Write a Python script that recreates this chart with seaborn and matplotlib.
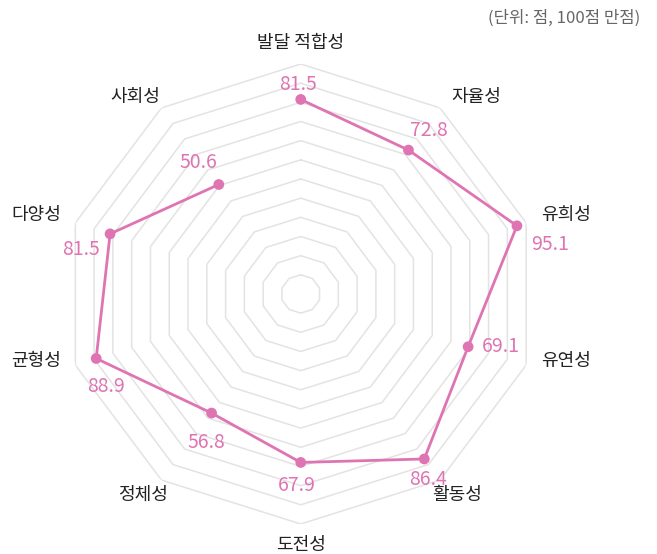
import numpy as np
import pandas as pd
import seaborn as sns
import matplotlib.pyplot as plt

# categories clockwise from the top, and scores
categories = ['발달 적합성', '자율성', '유희성', '유연성', '활동성',
              '도전성', '정체성', '균형성', '다양성', '사회성']
scores = [81.5, 72.8, 95.1, 69.1, 86.4, 67.9, 56.8, 88.9, 81.5, 50.6]
ring_levels = [-10, 0, 10, 20, 30, 40, 50, 60, 70, 80, 90, 100]
unit_note = '(단위: 점, 100점 만점)'

# layout (pixel offsets for the text)
value_offsets = [(-3, 4, 'center', 'bottom'), (2, 9, 'left', 'bottom'),
                 (14, -8, 'left', 'top'), (14, 0, 'left', 'center'),
                 (4, -10, 'center', 'top'), (-4, -13, 'center', 'top'),
                 (-5, -19, 'center', 'top'), (10, -18, 'center', 'top'),
                 (-10, -5, 'right', 'top'), (-1, 12, 'right', 'bottom')]
label_offsets = [(0, 21), (36, 11), (40, 8), (40, 4), (17, -15),
                 (0, -21), (-18, -15), (-39, 4), (-39, 8), (-26, 11)]

PINK = '#DF74B3'
GRID = '#E3E3E3'

sns.set_theme(style='white')
plt.rcParams['font.family'] = ['Noto Sans CJK KR', 'DejaVu Sans']

fig = plt.figure(figsize=(6.57, 5.54), dpi=100)
ax = fig.add_axes([0.097, 0.0542, 0.7215, 0.8303], projection='polar')
ax.set_theta_offset(np.pi / 2)
ax.set_theta_direction(-1)
ax.set_ylim(-20, 100)
ax.set_aspect('auto')
ax.grid(False)
ax.set_xticks([])
ax.set_yticks([])
ax.spines['polar'].set_visible(False)
ax.patch.set_alpha(0)

n = len(categories)
theta = np.linspace(0, 2 * np.pi, n, endpoint=False)
theta_closed = np.append(theta, theta[0])

# decagon rings
for lvl in ring_levels:
    ax.plot(theta_closed, [lvl] * (n + 1), color=GRID, lw=1.1, zorder=1)

df = pd.DataFrame({'theta': theta_closed, 'score': scores + scores[:1]})
sns.lineplot(data=df, x='theta', y='score', sort=False, ax=ax,
             color=PINK, lw=2.0, zorder=3)
sns.scatterplot(data=df.iloc[:-1], x='theta', y='score', ax=ax,
                color=PINK, s=60, edgecolor='none', zorder=4)
ax.set_xlabel('')
ax.set_ylabel('')

for t, v, (dx, dy, ha, va) in zip(theta, scores, value_offsets):
    ax.annotate(f'{v}', xy=(t, v), xytext=(dx, dy), textcoords='offset pixels',
                ha=ha, va=va, color=PINK, fontsize=14, fontweight='light')

for t, lab, (dx, dy) in zip(theta, categories, label_offsets):
    ax.annotate(lab, xy=(t, 100), xytext=(dx, dy), textcoords='offset pixels',
                ha='center', va='center', color='#222222', fontsize=13)

fig.text(0.975, 1 - 18 / 554, unit_note, ha='right', va='center',
         color='#666666', fontsize=12)

fig.savefig('out.png', dpi=100)
